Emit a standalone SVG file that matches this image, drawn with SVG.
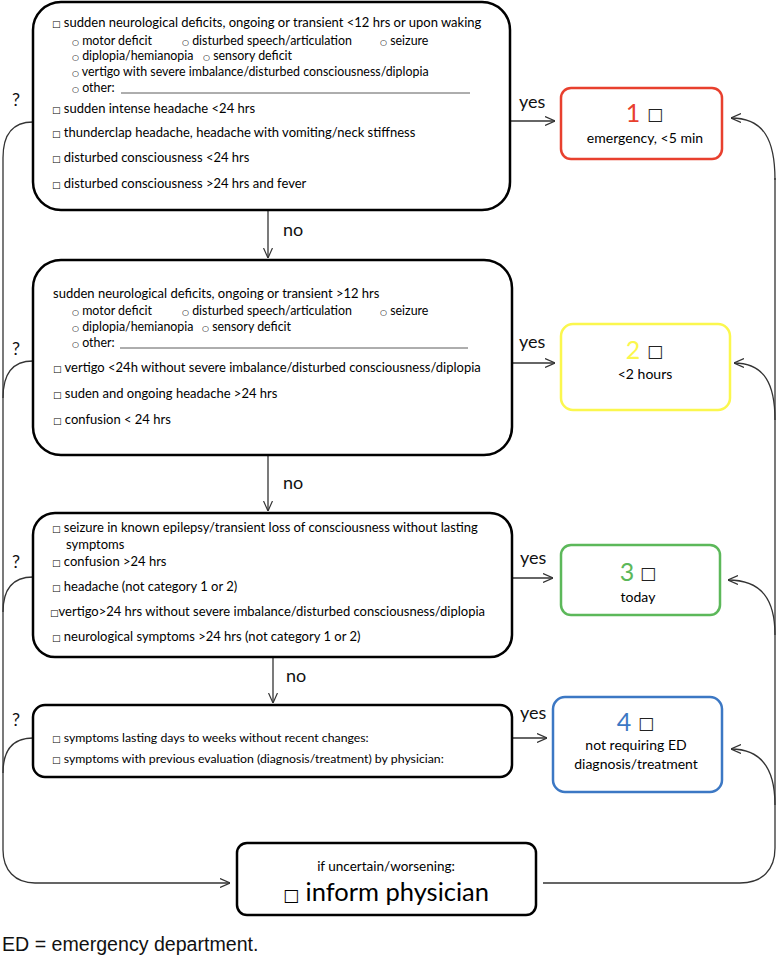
<svg xmlns="http://www.w3.org/2000/svg" width="777" height="973" viewBox="0 0 777 973">
<style>
.t { font-family: Lato, "DejaVu Sans", sans-serif; font-size: 13px; fill: #000; }
.s { font-size: 12.4px; }
.d { font-size: 12.3px; }
.o { font-size: 14px; }
.cb { font-family: "DejaVu Sans", sans-serif; font-size: 9px; }
.ci { font-family: "DejaVu Sans", sans-serif; font-size: 8px; }
.box { fill: #fff; stroke: #000; stroke-width: 2.5; }
.ob { fill: #fff; stroke-width: 2.5; }
.lbl { font-family: Lato, "DejaVu Sans", sans-serif; font-size: 18px; fill: #111; }
.num { font-family: Lato, sans-serif; font-size: 25px; }
.nb { font-family: "DejaVu Sans", sans-serif; font-size: 17px; fill: #222; }
.con { fill: none; stroke: #333; stroke-width: 1.3; }
.ul { stroke: #333; stroke-width: 0.8; }
</style>
<defs>
<marker id="arr" viewBox="0 0 10 10" refX="10" refY="5" markerWidth="10" markerHeight="10" markerUnits="userSpaceOnUse" orient="auto">
<path d="M0,0.5 L10,5 L0,9.5" fill="none" stroke="#333" stroke-width="1.2"/>
</marker>
</defs>

<g id="connectors">
<path class="con" d="M510 121 H555" marker-end="url(#arr)"/>
<path class="con" d="M512 363 H555" marker-end="url(#arr)"/>
<path class="con" d="M512 578 H553" marker-end="url(#arr)"/>
<path class="con" d="M512 738 H547" marker-end="url(#arr)"/>
<path class="con" d="M268 210 V258" marker-end="url(#arr)"/>
<path class="con" d="M268 455 V511" marker-end="url(#arr)"/>
<path class="con" d="M273 657 V703" marker-end="url(#arr)"/>
<path class="con" d="M543 883 H740 C762 883 775 870 775 848 V178"/>
<path class="con" d="M775 180 C775 140 764 118 731 118" marker-end="url(#arr)"/>
<path class="con" d="M775 420 C775 385 765 363 734 363" marker-end="url(#arr)"/>
<path class="con" d="M775 635 C775 600 762 580 728 580" marker-end="url(#arr)"/>
<path class="con" d="M775 805 C775 770 762 749 731 749" marker-end="url(#arr)"/>
<path class="con" d="M33 122 C12 122 3 135 3 158 V850 C3 870 15 883 35 883 H230" marker-end="url(#arr)"/>
<path class="con" d="M33 361 C12 361 3 374 3 398"/>
<path class="con" d="M33 577 C12 577 3 590 3 612"/>
<path class="con" d="M33 738 C12 738 3 751 3 773"/>
<text class="lbl" x="519" y="108">yes</text>
<text class="lbl" x="519" y="348">yes</text>
<text class="lbl" x="520" y="564">yes</text>
<text class="lbl" x="520" y="719">yes</text>
<text class="lbl" x="283" y="236">no</text>
<text class="lbl" x="283" y="489">no</text>
<text class="lbl" x="286" y="682">no</text>
<text class="lbl" x="12" y="106">?</text>
<text class="lbl" x="12" y="355">?</text>
<text class="lbl" x="12" y="568">?</text>
<text class="lbl" x="12" y="726">?</text>
</g>

<g id="boxA">
<rect class="box" x="33" y="2" width="477" height="208" rx="28"/>
<text class="t" x="52" y="27"><tspan class="cb">□</tspan> sudden neurological deficits, ongoing or transient &lt;12 hrs or upon waking</text>
<text class="t s" x="72" y="45"><tspan class="ci">○</tspan> motor deficit</text>
<text class="t s" x="182" y="45"><tspan class="ci">○</tspan> disturbed speech/articulation</text>
<text class="t s" x="380" y="45"><tspan class="ci">○</tspan> seizure</text>
<text class="t s" x="72" y="60"><tspan class="ci">○</tspan> diplopia/hemianopia</text>
<text class="t s" x="203" y="60"><tspan class="ci">○</tspan> sensory deficit</text>
<text class="t s" x="72" y="76"><tspan class="ci">○</tspan> vertigo with severe imbalance/disturbed consciousness/diplopia</text>
<text class="t s" x="72" y="92"><tspan class="ci">○</tspan> other:</text>
<line class="ul" x1="121" y1="93" x2="470" y2="93"/>
<text class="t" x="52" y="113"><tspan class="cb">□</tspan> sudden intense headache &lt;24 hrs</text>
<text class="t" x="52" y="137"><tspan class="cb">□</tspan> thunderclap headache, headache with vomiting/neck stiffness</text>
<text class="t" x="52" y="162"><tspan class="cb">□</tspan> disturbed consciousness &lt;24 hrs</text>
<text class="t" x="52" y="188"><tspan class="cb">□</tspan> disturbed consciousness &gt;24 hrs and fever</text>
</g>

<g id="boxB">
<rect class="box" x="33" y="260" width="479" height="195" rx="28"/>
<text class="t" x="53" y="298">sudden neurological deficits, ongoing or transient &gt;12 hrs</text>
<text class="t s" x="72" y="315"><tspan class="ci">○</tspan> motor deficit</text>
<text class="t s" x="182" y="315"><tspan class="ci">○</tspan> disturbed speech/articulation</text>
<text class="t s" x="380" y="315"><tspan class="ci">○</tspan> seizure</text>
<text class="t s" x="72" y="331"><tspan class="ci">○</tspan> diplopia/hemianopia</text>
<text class="t s" x="202" y="331"><tspan class="ci">○</tspan> sensory deficit</text>
<text class="t s" x="72" y="347"><tspan class="ci">○</tspan> other:</text>
<line class="ul" x1="120" y1="348" x2="468" y2="348"/>
<text class="t" x="53" y="372"><tspan class="cb">□</tspan> vertigo &lt;24h without severe imbalance/disturbed consciousness/diplopia</text>
<text class="t" x="53" y="398"><tspan class="cb">□</tspan> suden and ongoing headache &gt;24 hrs</text>
<text class="t" x="53" y="424"><tspan class="cb">□</tspan> confusion &lt; 24 hrs</text>
</g>

<g id="boxC">
<rect class="box" x="33" y="513" width="479" height="144" rx="22"/>
<text class="t" x="52" y="532"><tspan class="cb">□</tspan> seizure in known epilepsy/transient loss of consciousness without lasting</text>
<text class="t" x="66" y="549">symptoms</text>
<text class="t" x="52" y="566"><tspan class="cb">□</tspan> confusion &gt;24 hrs</text>
<text class="t" x="52" y="591"><tspan class="cb">□</tspan> headache (not category 1 or  2)</text>
<text class="t" x="50" y="616"><tspan class="cb">□</tspan>vertigo&gt;24 hrs without severe imbalance/disturbed consciousness/diplopia</text>
<text class="t" x="52" y="641"><tspan class="cb">□</tspan> neurological symptoms &gt;24 hrs (not category 1 or 2)</text>
</g>

<g id="boxD">
<rect class="box" x="33" y="705" width="479" height="72" rx="12"/>
<text class="t d" x="52" y="742"><tspan class="cb">□</tspan> symptoms lasting days to weeks without recent changes:</text>
<text class="t d" x="52" y="763"><tspan class="cb">□</tspan> symptoms with previous evaluation (diagnosis/treatment) by physician:</text>
</g>

<g id="boxE">
<rect class="box" x="237" y="843" width="299" height="72" rx="10"/>
<text class="t" x="386" y="871" text-anchor="middle" style="font-size:13.5px">if uncertain/worsening:</text>
<text class="t" x="386" y="901" text-anchor="middle" style="font-size:25.5px"><tspan style="font-family:'DejaVu Sans';font-size:17px">□</tspan> inform physician</text>
</g>

<g id="out1">
<rect class="ob" x="561" y="88" width="161" height="71" rx="10" stroke="#e8402e"/>
<text class="num" x="633" y="122" text-anchor="middle" fill="#e8402e">1</text>
<text class="nb" x="655" y="120" text-anchor="middle">□</text>
<text class="t o" x="645" y="143" text-anchor="middle">emergency, &lt;5 min</text>
</g>

<g id="out2">
<rect class="ob" x="561" y="324" width="169" height="86" rx="12" stroke="#fbf74e"/>
<text class="num" x="633" y="359" text-anchor="middle" fill="#fbf74e">2</text>
<text class="nb" x="655" y="357" text-anchor="middle">□</text>
<text class="t o" x="645" y="379" text-anchor="middle">&lt;2 hours</text>
</g>

<g id="out3">
<rect class="ob" x="561" y="545" width="159" height="70" rx="10" stroke="#5cb85a"/>
<text class="num" x="627" y="581" text-anchor="middle" fill="#5cb85a">3</text>
<text class="nb" x="648" y="579" text-anchor="middle">□</text>
<text class="t o" x="638" y="602" text-anchor="middle">today</text>
</g>

<g id="out4">
<rect class="ob" x="553" y="697" width="169" height="95" rx="12" stroke="#3c78c4"/>
<text class="num" x="624" y="731" text-anchor="middle" fill="#3c78c4">4</text>
<text class="nb" x="646" y="729" text-anchor="middle">□</text>
<text class="t o" x="636" y="750" text-anchor="middle">not requiring ED</text>
<text class="t o" x="636" y="769" text-anchor="middle">diagnosis/treatment</text>
</g>

<text x="2" y="951" style="font-family:'Liberation Sans',Arial,sans-serif;font-size:19.6px;fill:#111">ED = emergency department.</text>
</svg>
